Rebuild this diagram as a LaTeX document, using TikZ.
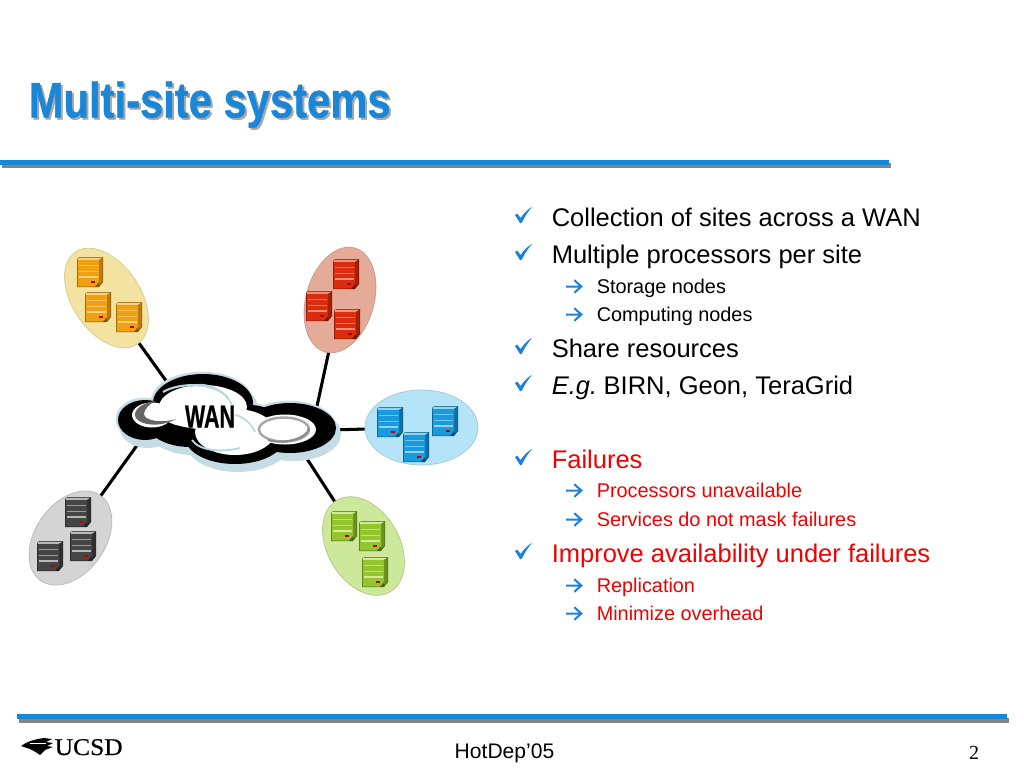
\documentclass[tikz,border=0pt]{standalone}
\usepackage{fontspec}
\setmainfont{Liberation Sans}
\newfontfamily\serifface[FakeBold=0.6]{Liberation Serif}
\newfontfamily\pageface{Liberation Serif}
\newfontfamily\heavyface[FakeBold=0.8,UprightFont=*-Bold]{Liberation Sans}
\usetikzlibrary{shapes.geometric}
\definecolor{ttlblue}{HTML}{1A86D8}
\definecolor{bullblue}{HTML}{1B7FE0}
\definecolor{ruleblue}{HTML}{1588D6}
\definecolor{rulegray}{HTML}{858585}
\definecolor{ttlshadow}{HTML}{A8A8A8}
\definecolor{txtred}{HTML}{F00000}
\definecolor{halo}{HTML}{C6DCE4}
\definecolor{paleb}{HTML}{BCD6DE}
\definecolor{syf}{HTML}{F3E2A0}\definecolor{syd}{HTML}{D9CB95}
\definecolor{srf}{HTML}{E5AB98}\definecolor{srd}{HTML}{C99A8A}
\definecolor{sbf}{HTML}{B5E3F7}\definecolor{sbd}{HTML}{A5CCDD}
\definecolor{sgf}{HTML}{CDE89A}\definecolor{sgd}{HTML}{B5CC90}
\definecolor{skf}{HTML}{D4D4D4}\definecolor{skd}{HTML}{BBBBBB}
\definecolor{oa}{HTML}{F0A010}\definecolor{ob}{HTML}{B87A08}\definecolor{oc}{HTML}{F8D080}
\definecolor{ra}{HTML}{DC2C0E}\definecolor{rb}{HTML}{A02008}\definecolor{rc}{HTML}{F29080}
\definecolor{ba}{HTML}{1A9ADE}\definecolor{bb}{HTML}{106FA5}\definecolor{bc}{HTML}{90D4F2}
\definecolor{ga}{HTML}{95C52E}\definecolor{gb}{HTML}{6C9020}\definecolor{gc}{HTML}{D0EA98}
\definecolor{ka}{HTML}{454545}\definecolor{kb}{HTML}{303030}\definecolor{kc}{HTML}{B8B8B8}
\tikzset{
  x=0.75pt,y=-0.75pt,
  lone/.style={anchor=base west,inner sep=0pt,font=\fontsize{19.13pt}{22pt}\selectfont},
  ltwo/.style={anchor=base west,inner sep=0pt,font=\fontsize{14.9pt}{18pt}\selectfont},
  site/.style 2 args={ellipse,draw=#2,line width=0.6pt,fill=#1,inner sep=0pt},
  conn/.style={line width=2.3pt,black},
  ttl/.style={anchor=base west,inner sep=0pt,xscale=0.835,font=\heavyface\fontsize{37.5pt}{40pt}\selectfont},
}
\newcommand{\srv}[5]{%
  \begin{scope}[shift={(#1,#2)}]
    \fill[#4!70!black] (0,2)--(2,0)--(26,0)--(26,25)--(22,30)--(0,30)--cycle;
    \fill[#5] (1.5,0.6)--(25.5,0.6)--(22,3)--(0.5,3)--cycle;
    \fill[#4] (22,3)--(25.5,0.8)--(25.5,24.5)--(22,28)--cycle;
    \fill[#3] (0.5,3)--(22,3)--(22,25)--(18,29.5)--(0.5,29.5)--cycle;
    \fill[#5,opacity=0.75] (2,7.8) rectangle (21,8.8);
    \fill[#5,opacity=0.75] (2,13.8) rectangle (21,14.8);
    \fill[#5] (2,19.4) rectangle (21,20.6);
    \fill[red!75!black] (13.5,23.6) rectangle (17.5,25.8);
  \end{scope}}
\newcommand{\cloudset}[1]{%
  \path[#1] (145,420) ellipse [x radius=27,y radius=20];
  \path[#1] (203,403) ellipse [x radius=50,y radius=29];
  \path[#1] (190,420) ellipse [x radius=45,y radius=27];
  \path[#1] (235,437) ellipse [x radius=50,y radius=27];
  \path[#1] (290,428) ellipse [x radius=46,y radius=25];
  \path[#1] (250,425) ellipse [x radius=30,y radius=20];}
\newcommand{\chkmark}[2]{%
  \fill[bullblue,shift={(#1,#2)}] (515,-11) -- (517.2,-12.4) -- (520.6,-8) .. controls (524,-13) and (528,-17) .. (532,-19) .. controls (527.5,-14) and (524,-8) .. (521.6,-3) -- (520,-3) -- cycle;}
\newcommand{\arrmark}[2]{%
  \draw[bullblue,line width=1.5pt,shift={(#1,#2)}] (566,-6.5) -- (581,-6.5) (574.3,-12.8) -- (581.3,-6.5) -- (574.3,-0.2);}
\begin{document}
\begin{tikzpicture}
\useasboundingbox (0,0) rectangle (1024,768);
\fill[white] (0,0) rectangle (1024,768);

% title
\node[ttl,text=ttlshadow] (titleshadow) at (30.5,119.5) {Multi-site systems};
\node[ttl,text=ttlblue] (title) at (28.5,117.5) {Multi-site systems};
\fill[rulegray] (2,163) rectangle (891,168);
\fill[ruleblue] (0,160) rectangle (889,164.5);
\fill[rulegray] (19,718) rectangle (1009,723);
\fill[ruleblue] (17,714.3) rectangle (1007,719);

% sites
\node[site={syf}{syd},minimum width=111*0.75pt,minimum height=68*0.75pt,rotate=-56] (sy) at (106.5,298) {};
\node[site={srf}{srd},minimum width=108*0.75pt,minimum height=68*0.75pt,rotate=74] (sr) at (340,300) {};
\node[site={sbf}{sbd},minimum width=113*0.75pt,minimum height=75*0.75pt] (sb) at (421.5,427.5) {};
\node[site={sgf}{sgd},minimum width=106*0.75pt,minimum height=72*0.75pt,rotate=-60] (sg) at (363.5,546) {};
\node[site={skf}{skd},minimum width=104*0.75pt,minimum height=70*0.75pt,rotate=55] (sk) at (70.5,538) {};

% connectors, ending under the cloud
\coordinate (cy) at (172,389);
\coordinate (cr) at (314,420);
\coordinate (cb) at (330,430);
\coordinate (cg) at (300,448);
\coordinate (ck) at (148,430);
\draw[conn] (sy) -- (cy);
\draw[conn] (sr) -- (cr);
\draw[conn] (sb) -- (cb);
\draw[conn] (sg) -- (cg);
\draw[conn] (sk) -- (ck);

% cloud
\begin{scope}[shift={(3,6)}]
  \cloudset{fill=halo,draw=halo,line width=3pt}
\end{scope}
\begin{scope}[shift={(-1,-1)}]
  \cloudset{fill=halo,draw=halo,line width=2pt}
\end{scope}
\cloudset{fill=black}
\fill[white] (152,415) ellipse [x radius=20,y radius=12.5];
\fill[white] (203,407) ellipse [x radius=44,y radius=22];
\fill[white] (192,414) ellipse [x radius=30,y radius=13];
\fill[white] (235,432) ellipse [x radius=40,y radius=23];
\fill[white] (285,429.5) ellipse [x radius=31,y radius=15];
\draw[paleb,line width=1.6pt] (163,392) .. controls (180,382) and (215,382) .. (228,398);
\draw[paleb,line width=1.2pt] (190,387) .. controls (205,380) and (225,390) .. (232,405);
\draw[paleb,line width=1.4pt] (192,440) .. controls (200,452) and (225,452) .. (240,448);
\draw[paleb,line width=1.2pt] (235,415) .. controls (245,417) and (252,425) .. (255,432);
\fill[black!60] (155,401) .. controls (140,403) and (132,412) .. (136,418) .. controls (140,425) and (160,428) .. (176,419) .. controls (160,424) and (144,420) .. (144,414) .. controls (144,409) and (150,404) .. (155,401) -- cycle;
\draw[black!35,line width=1.8pt] (284,429.5) ellipse [x radius=25,y radius=12];
\draw[black!45,line width=1.6pt] (268,440) .. controls (285,445) and (308,438) .. (309,428);
\node[inner sep=0pt,xscale=0.67,font=\heavyface\fontsize{24pt}{26pt}\selectfont] (wan) at (210,416.5) {WAN};

% servers
\srv{77}{257}{oa}{ob}{oc}
\srv{85}{292}{oa}{ob}{oc}
\srv{116}{302}{oa}{ob}{oc}
\srv{333}{259}{ra}{rb}{rc}
\srv{306}{291}{ra}{rb}{rc}
\srv{334}{309}{ra}{rb}{rc}
\srv{377}{407}{ba}{bb}{bc}
\srv{432}{406}{ba}{bb}{bc}
\srv{403}{432}{ba}{bb}{bc}
\srv{331}{511}{ga}{gb}{gc}
\srv{359}{521}{ga}{gb}{gc}
\srv{362}{557}{ga}{gb}{gc}
\srv{65}{497}{ka}{kb}{kc}
\srv{70}{531}{ka}{kb}{kc}
\srv{37}{541}{ka}{kb}{kc}

% bullets
\chkmark{0}{226}
\node[lone] (t1) at (551.5,226) {Collection of sites across a WAN};
\chkmark{0}{263}
\node[lone] (t2) at (551.5,263) {Multiple processors per site};
\arrmark{0}{293}
\node[ltwo] (t3) at (596.5,293) {Storage nodes};
\arrmark{0}{321}
\node[ltwo] (t4) at (596.5,321) {Computing nodes};
\chkmark{0}{357}
\node[lone] (t5) at (551.5,357) {Share resources};
\chkmark{0}{394}
\node[lone] (t6) at (551.5,394) {\textit{E.g.}\hspace{-2.2pt} BIRN, Geon, TeraGrid};
\chkmark{0}{468}
\node[lone,text=txtred] (t7) at (551.5,468) {Failures};
\arrmark{0}{497}
\node[ltwo,text=txtred] (t8) at (596.5,497) {Processors unavailable};
\arrmark{0}{526}
\node[ltwo,text=txtred] (t9) at (596.5,526) {Services do not mask failures};
\chkmark{0}{562}
\node[lone,text=txtred] (t10) at (551.5,562) {Improve availability under failures};
\arrmark{0}{592}
\node[ltwo,text=txtred] (t11) at (596.5,592) {Replication};
\arrmark{0}{620}
\node[ltwo,text=txtred] (t12) at (596.5,620) {Minimize overhead};

% footer
\fill[black] (21,746) .. controls (28,741) and (36,739) .. (44,738) -- (52,739) -- (46,742) -- (53,743) -- (47,746) -- (53,747) -- (45,750) -- (40,755) .. controls (36,752) and (32,750) .. (30,749) -- cycle;
\fill[white] (30,743.3) -- (46,743.3) -- (46,744.1) -- (30,744.1) -- cycle;
\node[anchor=base west,inner sep=0pt,xscale=1.06,font=\serifface\fontsize{18pt}{20pt}\selectfont] (ucsd) at (54.5,755) {UCSD};
\node[anchor=base,inner sep=0pt,font=\fontsize{15.8pt}{18pt}\selectfont] (conf) at (504.5,758) {HotDep’05};
\node[anchor=base,inner sep=0pt,font=\pageface\fontsize{15pt}{18pt}\selectfont] (pg) at (974,759) {2};
\end{tikzpicture}
\end{document}
